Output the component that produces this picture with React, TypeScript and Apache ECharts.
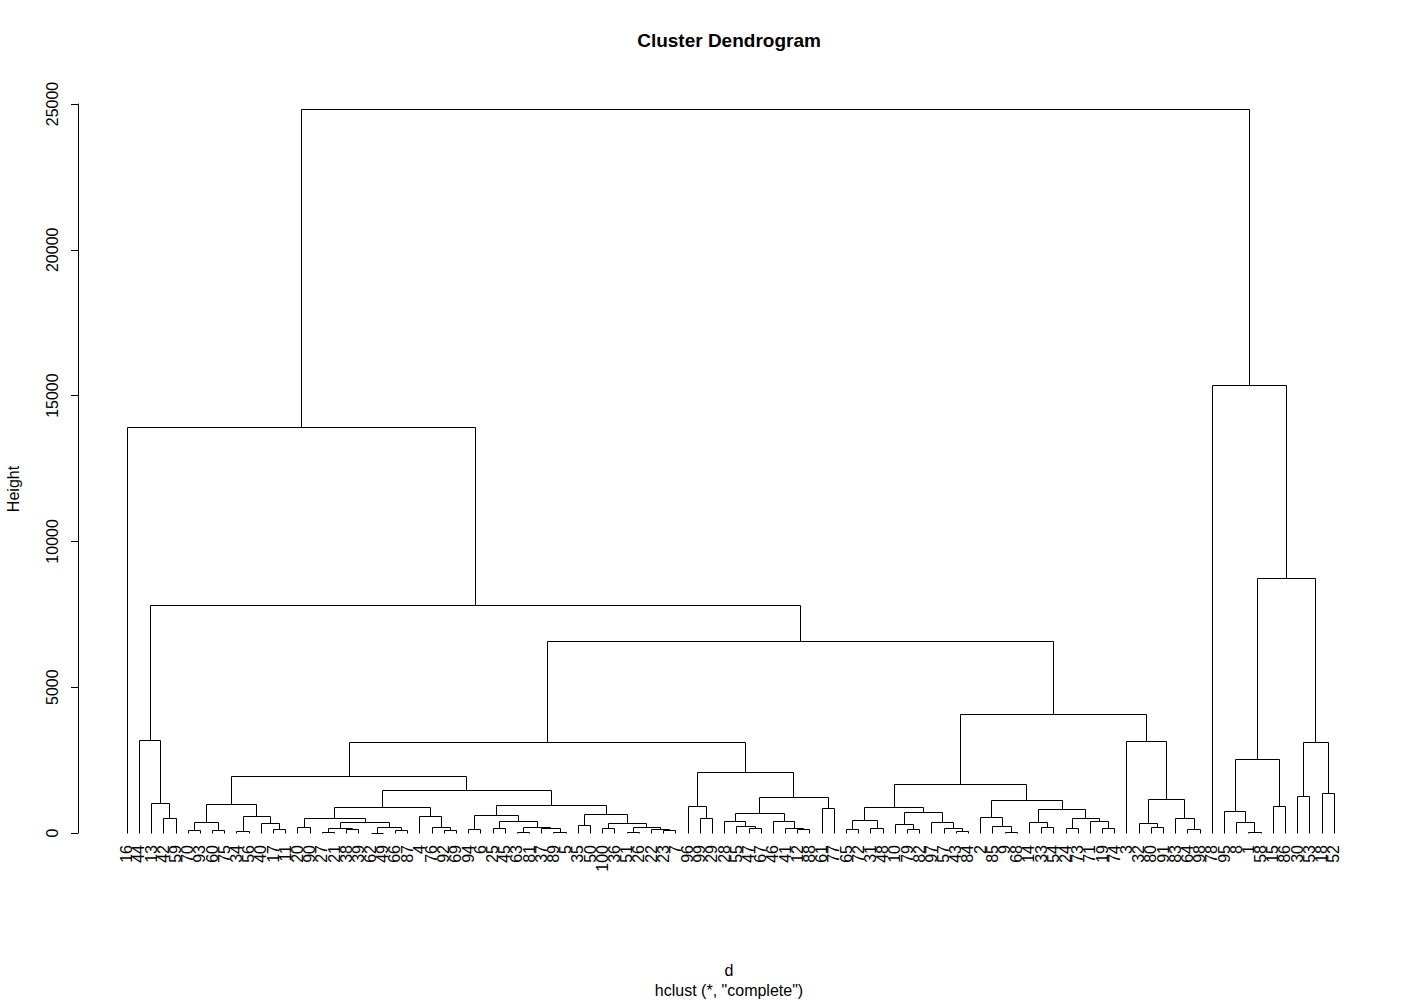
import React, { useEffect, useRef } from "react";
import * as echarts from "echarts";

// Leaf labels in dendrogram order (left to right)
const leafLabels = [
  "16","44","13","42","59","70","93","60","75","34",
  "56","40","17","11","20","90","27","21","38","39",
  "62","49","66","87","4","76","92","69","94","6",
  "25","45","63","81","37","89","5","35","50","100",
  "36","51","26","22","23","7","96","99","29","28",
  "55","47","67","46","41","12","88","61","77","65",
  "72","31","48","10","79","82","97","57","43","84",
  "2","85","9","68","14","33","54","24","73","71",
  "19","74","3","32","80","91","83","64","98","78",
  "95","8","1","58","15","86","30","53","18","52",
];

// Merges: negative = leaf position (1-based, in order above); positive = earlier merge (1-based)
const merges = [
  [-4,-5],[-3,1],[-2,2],[-6,-7],[-8,-9],[4,5],[-10,-11],[-13,-14],[-12,8],[7,9],
  [6,10],[-15,-16],[-17,-18],[-19,-20],[13,14],[-21,-22],[-23,-24],[16,17],[15,18],[12,19],
  [-27,-28],[-26,21],[-25,22],[20,23],[-29,-30],[-31,-32],[-33,-34],[-36,-37],[-35,28],[27,29],
  [26,30],[25,31],[-38,-39],[-40,-41],[-42,-43],[-45,-46],[-44,36],[35,37],[34,38],[33,39],
  [32,40],[24,41],[11,42],[-48,-49],[-47,44],[-52,-53],[-51,46],[-50,47],[-56,-57],[-55,49],
  [-54,50],[48,51],[-58,-59],[52,53],[45,54],[43,55],[-60,-61],[-62,-63],[57,58],[-65,-66],
  [-64,60],[-69,-70],[-68,62],[-67,63],[61,64],[59,65],[-73,-74],[-72,67],[-71,68],[-76,-77],
  [-75,70],[-78,-79],[-81,-82],[-80,73],[72,74],[71,75],[69,76],[66,77],[-85,-86],[-84,79],
  [-88,-89],[-87,81],[80,82],[-83,83],[78,84],[56,85],[3,86],[-1,87],[-93,-94],[-92,89],
  [-91,90],[-95,-96],[91,92],[-97,-98],[-99,-100],[94,95],[93,96],[-90,97],[88,98],
];

// Merge heights
const mergeHeights = [
  504,1018,3179,93,93,370,58,127,333,573,
  984,195,24,127,161,15,93,195,370,504,
  93,195,573,878,127,161,45,45,161,195,
  401,617,264,161,24,93,127,195,333,641,
  960,1464,1944,504,915,161,230,401,127,161,
  401,676,847,1224,2081,3110,127,161,436,127,
  298,58,161,370,710,878,24,230,538,195,
  370,161,161,401,504,813,1121,1670,195,333,
  127,504,1155,3144,4080,6584,7818,13922,45,370,
  754,916,2527,1258,1372,3110,8744,15362,24826,
];

const yTicks = [0, 5000, 10000, 15000, 20000, 25000];

const FONT = "'Liberation Sans', Arial, sans-serif";

function buildSegments() {
  const nodeX: number[] = [];
  const nodeH: number[] = [];
  const segs: number[][] = [];
  const ref = (r: number) =>
    r < 0 ? { x: -r, h: 0 } : { x: nodeX[r - 1], h: nodeH[r - 1] };
  merges.forEach(([a, b], i) => {
    const A = ref(a);
    const B = ref(b);
    nodeX[i] = (A.x + B.x) / 2;
    nodeH[i] = mergeHeights[i];
    segs.push([A.x, A.h, B.x, B.h, mergeHeights[i]]);
  });
  return segs;
}

export default function App() {
  const ref = useRef<HTMLDivElement>(null);
  useEffect(() => {
    if (!ref.current) return;
    const chart = echarts.init(ref.current, null, { renderer: "svg" });
    const segs = buildSegments();
    const px = (v: number) => Math.round(v) + 0.5;
    chart.setOption({
      animation: false,
      backgroundColor: "#ffffff",
      grid: { left: 78, top: 104, width: 1304.5, height: 729 },
      xAxis: { type: "value", min: -3, max: 104, show: false },
      yAxis: {
        type: "value",
        min: yTicks[0],
        max: yTicks[yTicks.length - 1],
        interval: 5000,
        axisLine: { show: true, onZero: false, lineStyle: { color: "#000", width: 1 } },
        axisTick: { show: true, length: 7, lineStyle: { color: "#000", width: 1 } },
        axisLabel: {
          rotate: 90,
          margin: 18,
          fontSize: 16,
          color: "#000",
          fontFamily: FONT,
          formatter: (v: number) => String(v),
        },
        splitLine: { show: false },
      },
      graphic: [
        {
          type: "text",
          x: 729,
          y: 40,
          style: {
            text: "Cluster Dendrogram",
            font: `bold 19px ${FONT}`,
            fill: "#000",
            align: "center",
            verticalAlign: "middle",
          },
        },
        {
          type: "text",
          x: 13,
          y: 489,
          rotation: Math.PI / 2,
          style: {
            text: "Height",
            font: `16px ${FONT}`,
            fill: "#000",
            align: "center",
            verticalAlign: "middle",
          },
        },
        {
          type: "text",
          x: 729,
          y: 970,
          style: {
            text: "d",
            font: `16px ${FONT}`,
            fill: "#000",
            align: "center",
            verticalAlign: "middle",
          },
        },
        {
          type: "text",
          x: 729,
          y: 990,
          style: {
            text: 'hclust (*, "complete")',
            font: `16px ${FONT}`,
            fill: "#000",
            align: "center",
            verticalAlign: "middle",
          },
        },
      ],
      series: [
        {
          type: "custom",
          silent: true,
          clip: false,
          encode: { x: [0, 2], y: [1, 3, 4] },
          data: segs,
          renderItem: (params: any, api: any) => {
            const xl = api.value(0), hl = api.value(1);
            const xr = api.value(2), hr = api.value(3);
            const h = api.value(4);
            const a = api.coord([xl, hl]);
            const b = api.coord([xl, h]);
            const c = api.coord([xr, h]);
            const d = api.coord([xr, hr]);
            return {
              type: "polyline",
              shape: {
                points: [
                  [px(a[0]), px(a[1])],
                  [px(b[0]), px(b[1])],
                  [px(c[0]), px(c[1])],
                  [px(d[0]), px(d[1])],
                ],
              },
              style: { stroke: "#000", fill: "none", lineWidth: 1 },
            };
          },
        },
        {
          type: "custom",
          silent: true,
          clip: false,
          encode: { x: 0, y: 1 },
          data: leafLabels.map((_, i) => [i + 1, 0]),
          renderItem: (params: any, api: any) => {
            const p = api.coord([api.value(0), api.value(1)]);
            return {
              type: "text",
              x: p[0],
              y: p[1] + 12,
              rotation: Math.PI / 2,
              style: {
                text: leafLabels[params.dataIndex],
                font: `16px ${FONT}`,
                fill: "#000",
                align: "right",
                verticalAlign: "middle",
              },
            };
          },
        },
      ],
    });
    return () => chart.dispose();
  }, []);
  return (
    <div
      ref={ref}
      style={{ position: "absolute", left: 0, top: 0, width: 1423, height: 1000 }}
    />
  );
}
